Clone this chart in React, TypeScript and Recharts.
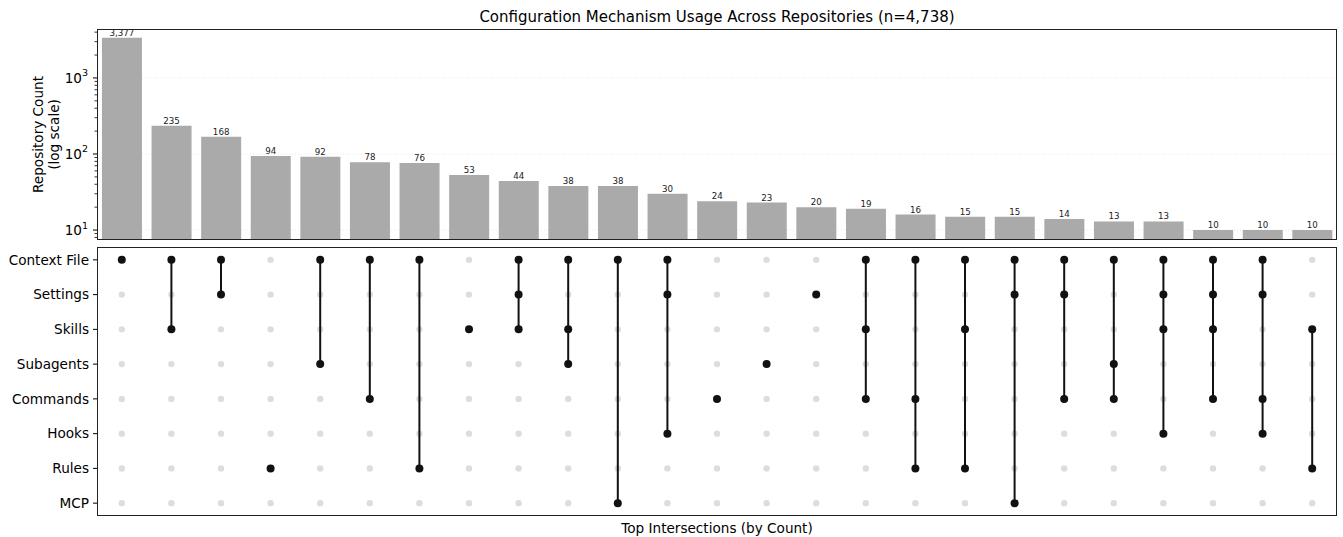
import React from 'react';
import { BarChart, Bar, XAxis, YAxis, LabelList, ScatterChart, Scatter, Label, CartesianGrid } from 'recharts';

const setNames = ['Context File', 'Settings', 'Skills', 'Subagents', 'Commands', 'Hooks', 'Rules', 'MCP'];
const counts = [3377, 235, 168, 94, 92, 78, 76, 53, 44, 38, 38, 30, 24, 23, 20, 19, 16, 15, 15, 14, 13, 13, 10, 10, 10];
const members: number[][] = [
  [0], [0, 2], [0, 1], [6], [0, 3], [0, 4], [0, 6], [2], [0, 1, 2], [0, 2, 3], [0, 7], [0, 1, 5], [4], [3], [1],
  [0, 2, 4], [0, 4, 6], [0, 2, 6], [0, 1, 7], [0, 1, 4], [0, 3, 4], [0, 1, 2, 5], [0, 1, 2, 4], [0, 1, 4, 5], [2, 6],
];
const majorTicks = [10, 100, 1000];
const minorTicks = [8, 9, 20, 30, 40, 50, 60, 70, 80, 90, 200, 300, 400, 500, 600, 700, 800, 900, 2000, 3000, 4000];
const titleText = 'Configuration Mechanism Usage Across Repositories (n=4,738)';
const xLabelText = 'Top Intersections (by Count)';

const FONT = '"DejaVu Sans", sans-serif';
const FS = 13.6;
const W = 1343;
const LEFT = 97;
const RIGHT = 6;
const TOP_T = 29;
const TOP_B = 240;
const BOT_T = 247;
const BOT_B = 516;
const Y_DOMAIN: [number, number] = [7.4, 4400];

const allTicks = [...majorTicks, ...minorTicks].sort((a, b) => a - b);
const barData = counts.map((c, i) => ({ name: `I${i}`, count: c }));
const greyDots: { x: number; y: number }[] = [];
counts.forEach((_, i) => setNames.forEach((__, j) => greyDots.push({ x: i, y: j })));
const columnData = members.map((m, i) => m.slice().sort((a, b) => a - b).map((j) => ({ x: i, y: j })));

const LogTick = (props: any) => {
  const { x, y, payload } = props;
  const v = payload.value;
  const isMajor = majorTicks.includes(v);
  if (!isMajor) {
    return <line x1={x - 2.5} x2={x} y1={y} y2={y} stroke="#000" strokeWidth={0.8} />;
  }
  const exp = Math.round(Math.log10(v));
  return (
    <g>
      <line x1={x - 4} x2={x} y1={y} y2={y} stroke="#000" strokeWidth={1} />
      <text x={x - 9} y={y} dy={5} textAnchor="end" fontFamily={FONT} fontSize={FS} fill="#000">
        10<tspan dy={-6.5} fontSize={9.5}>{exp}</tspan>
      </text>
    </g>
  );
};

const YLabel = (props: any) => {
  const vb = props.viewBox || {};
  const cy = vb.y + vb.height / 2;
  return (
    <g>
      <text x={38} y={cy} transform={`rotate(-90 38 ${cy})`} textAnchor="middle" dominantBaseline="central" fontFamily={FONT} fontSize={FS} fill="#000">Repository Count</text>
      <text x={54} y={cy} transform={`rotate(-90 54 ${cy})`} textAnchor="middle" dominantBaseline="central" fontFamily={FONT} fontSize={FS} fill="#000">(log scale)</text>
    </g>
  );
};

const gridGen = (args: any) => {
  const yAxis = args && args.yAxis;
  if (yAxis && typeof yAxis.scale === 'function') return majorTicks.map((v) => yAxis.scale(v));
  const offset = (args && args.offset) || { top: TOP_T, height: TOP_B - TOP_T };
  const lo = Math.log10(Y_DOMAIN[0]);
  const hi = Math.log10(Y_DOMAIN[1]);
  return majorTicks.map((v) => offset.top + offset.height * (1 - (Math.log10(v) - lo) / (hi - lo)));
};

export default function App() {
  return (
    <div style={{ position: 'absolute', left: 0, top: 0, width: W, height: 537, background: '#fff', fontFamily: FONT }}>
      <div style={{ position: 'absolute', left: LEFT, width: W - LEFT - RIGHT, top: 8, textAlign: 'center', fontSize: 15, lineHeight: '18px', color: '#000' }}>
        {titleText}
      </div>
      <div style={{ position: 'absolute', left: 0, top: 0 }}>
        <BarChart width={W} height={TOP_B} data={barData} margin={{ top: TOP_T, right: RIGHT, left: 0, bottom: 0 }} barCategoryGap="10%">
          <CartesianGrid vertical={false} stroke="#e8e8e8" strokeDasharray="1 2" horizontalCoordinatesGenerator={gridGen} />
          <XAxis dataKey="name" hide />
          <YAxis
            type="number"
            scale="log"
            domain={Y_DOMAIN}
            allowDataOverflow
            ticks={allTicks}
            interval={0}
            width={LEFT}
            tick={<LogTick />}
            tickSize={0}
            tickMargin={0}
            tickLine={false}
            axisLine={false}
          >
            <Label content={<YLabel />} />
          </YAxis>
          <Bar dataKey="count" fill="#aaaaaa" isAnimationActive={false}>
            <LabelList dataKey="count" position="top" offset={2} fontSize={8.7} fontFamily={FONT} fill="#222" formatter={(v: any) => Number(v).toLocaleString('en-US')} />
          </Bar>
        </BarChart>
      </div>
      <div style={{ position: 'absolute', left: LEFT, top: TOP_T, width: W - LEFT - RIGHT, height: TOP_B - TOP_T, border: '1px solid #222', boxSizing: 'border-box', pointerEvents: 'none' }} />

      <div style={{ position: 'absolute', left: 0, top: BOT_T }}>
        <ScatterChart width={W} height={537 - BOT_T} margin={{ top: 0, right: RIGHT, left: 0, bottom: 537 - BOT_B }}>
          <XAxis dataKey="x" type="number" domain={[-0.5, counts.length - 0.5]} allowDataOverflow hide />
          <YAxis
            dataKey="y"
            type="number"
            domain={[-0.37, setNames.length - 1 + 0.37]}
            allowDataOverflow
            reversed
            ticks={setNames.map((_, i) => i)}
            interval={0}
            tickFormatter={(v: any) => setNames[v] ?? ''}
            width={LEFT}
            tick={{ fontFamily: FONT, fontSize: FS, fill: '#000' }}
            tickSize={4}
            tickMargin={4}
            tickLine={{ stroke: '#000' }}
            axisLine={false}
          />
          <Scatter
            data={greyDots}
            isAnimationActive={false}
            shape={(p: any) => <circle cx={p.cx} cy={p.cy} r={3.2} fill="#dddddd" />}
          />
          {columnData.map((d, i) => (
            <Scatter
              key={i}
              data={d}
              isAnimationActive={false}
              line={{ stroke: '#111', strokeWidth: 2 }}
              lineType="joint"
              shape={(p: any) => <circle cx={p.cx} cy={p.cy} r={4} fill="#111" />}
            />
          ))}
        </ScatterChart>
      </div>
      <div style={{ position: 'absolute', left: LEFT, top: BOT_T, width: W - LEFT - RIGHT, height: BOT_B - BOT_T, border: '1px solid #222', boxSizing: 'border-box', pointerEvents: 'none' }} />
      <div style={{ position: 'absolute', left: LEFT, width: W - LEFT - RIGHT, top: 520, textAlign: 'center', fontSize: FS, lineHeight: '17px', color: '#000' }}>
        {xLabelText}
      </div>
    </div>
  );
}
